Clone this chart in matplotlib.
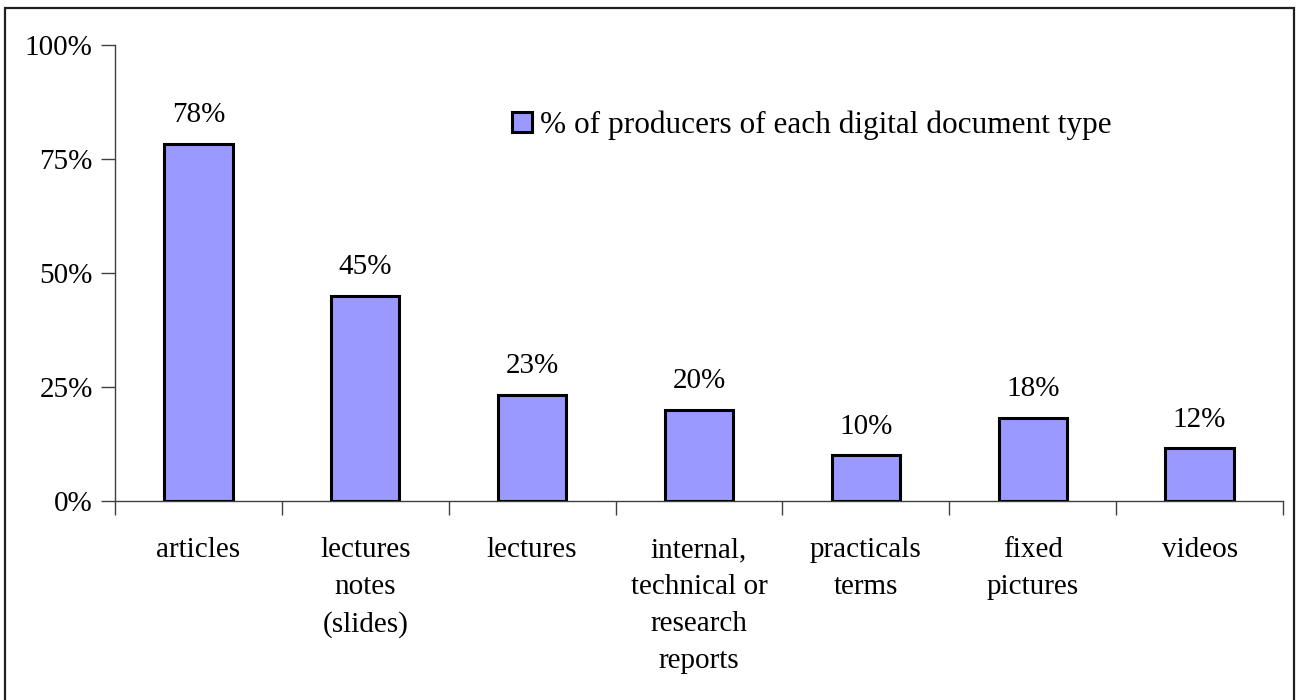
import matplotlib
matplotlib.use("Agg")
import matplotlib.pyplot as plt
from matplotlib.patches import Rectangle
from matplotlib.ticker import FuncFormatter

categories = ["articles", "lectures\nnotes\n(slides)", "lectures",
              "internal,\ntechnical or\nresearch\nreports",
              "practicals\nterms", "fixed\npictures", "videos"]
values = [78.3, 45.0, 23.3, 20.0, 10.0, 18.2, 11.6]
series_name = "% of producers of each digital document type"
yticks = [0, 25, 50, 75, 100]

plt.rcParams['font.family'] = ['Liberation Serif', 'DejaVu Serif']
FS = 21

W, H = 1297, 700
fig = plt.figure(figsize=(W / 100, H / 100), dpi=100)
ax = fig.add_axes([115 / W, (H - 501) / H, (1283 - 115) / W, (501 - 45) / H])

x = list(range(len(categories)))
bars = ax.bar(x, values, width=0.41, color='#9999FF', edgecolor='black',
              linewidth=2.2, label=series_name, zorder=3)

for xi, v in zip(x, values):
    ax.annotate(f"{v:.0f}%", (xi, v), xytext=(0, 15.5), textcoords='offset points',
                ha='center', va='baseline', fontsize=FS, color='black')

ax.set_xlim(-0.5, len(categories) - 0.5)
ax.set_ylim(0, 100)
ax.set_yticks(yticks)
ax.yaxis.set_major_formatter(FuncFormatter(lambda v, p: f"{v:.0f}%"))
ax.set_xticks([i - 0.5 for i in range(len(categories) + 1)])
ax.set_xticklabels([])
ax.set_xticks(x, minor=True)
ax.set_xticklabels(categories, minor=True, fontsize=FS, linespacing=1.55)
ax.tick_params(axis='x', which='minor', length=0, pad=26)
ax.tick_params(axis='x', which='major', length=10, width=1, color='#404040', direction='out')
ax.tick_params(axis='y', length=10, width=1, color='#404040', direction='out',
               labelsize=FS, pad=6)
for lab in ax.get_xticklabels(minor=True):
    lab.set_verticalalignment('top')

for s in ['top', 'right']:
    ax.spines[s].set_visible(False)
for s in ['left', 'bottom']:
    ax.spines[s].set_color('#404040')
    ax.spines[s].set_linewidth(1)

leg = ax.legend(loc='center left', bbox_to_anchor=(0.340, 0.824), frameon=False,
                fontsize=22.5, handlelength=0.63, handleheight=0.63,
                handletextpad=0.25, borderaxespad=0, borderpad=0)

fig.patches.append(Rectangle((5 / W, -0.01), (1294 - 5) / W, (H - 8) / H + 0.01,
                             transform=fig.transFigure, fill=False,
                             edgecolor='#202020', linewidth=1.6))

fig.savefig("out.png", dpi=100)
